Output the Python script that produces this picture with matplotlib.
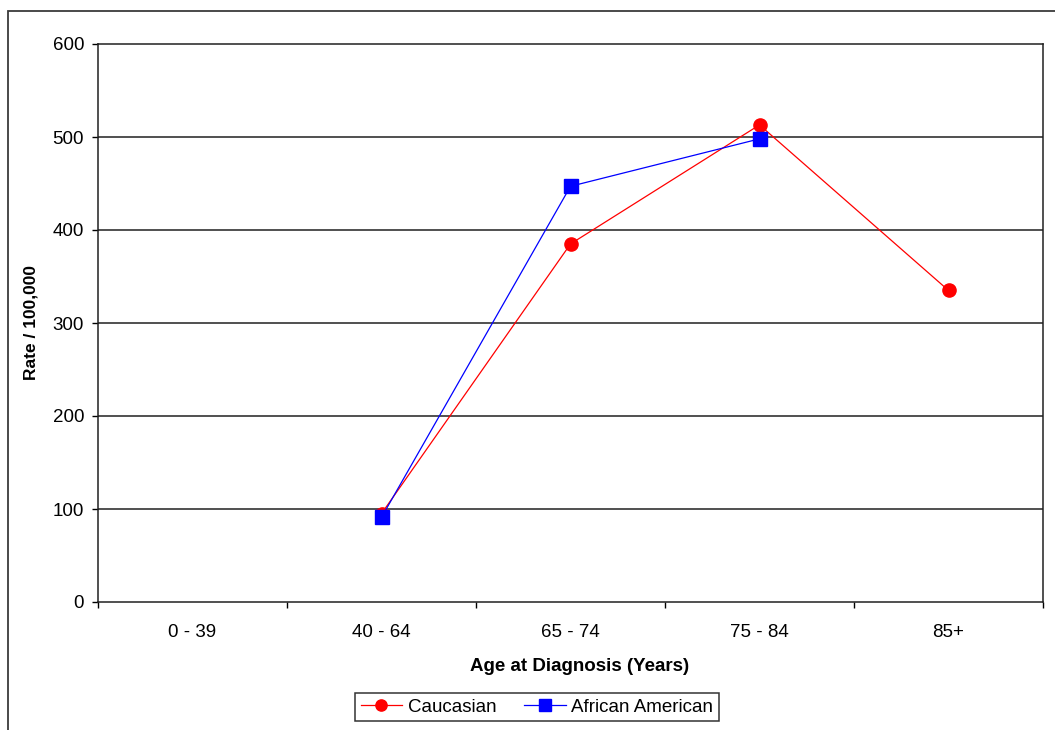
import numpy as np
import matplotlib
matplotlib.use('Agg')
from matplotlib import pyplot as plt
from matplotlib.patches import Rectangle

plt.rcParams['font.family'] = ['Liberation Sans', 'DejaVu Sans']

# age groups and rates per 100,000 (nan = no value)
age_groups = ['0 - 39', '40 - 64', '65 - 74', '75 - 84', '85+']
caucasian = [np.nan, 95, 385, 513, 335]
african_american = [np.nan, 91, 447, 498, np.nan]
y_ticks = [0, 100, 200, 300, 400, 500, 600]

fig = plt.figure(figsize=(10.55, 7.3), dpi=100)
ax = fig.add_axes([98/1055, 128/730, 945/1055, 558/730])

# outer chart frame (cropped at right and bottom)
fig.patches.append(Rectangle((8/1055, -0.1), 1.2, 0.1 + 719/730,
                             transform=fig.transFigure, fill=False,
                             edgecolor='#3a3a3a', linewidth=1.3))

x = np.arange(len(age_groups))
for yv in y_ticks[1:-1]:
    ax.axhline(yv, color='#202020', linewidth=1.1, zorder=1)

ax.plot(x, caucasian, color='#ff0000', linewidth=0.9, marker='o',
        markersize=9.5, label='Caucasian', zorder=3)
ax.plot(x, african_american, color='#0000ff', linewidth=0.9, marker='s',
        markersize=9.5, label='African American', zorder=3)

ax.set_xlim(-0.5, len(age_groups) - 0.5)
ax.set_ylim(0, 600)
ax.set_yticks(y_ticks)
ax.set_xticks(x)
ax.set_xticklabels(age_groups)
ax.set_xticks(np.arange(-0.5, len(age_groups)), minor=True)
ax.tick_params(axis='x', which='major', length=0, pad=16, labelsize=13.5)
ax.tick_params(axis='x', which='minor', length=4, width=1, direction='out')
ax.tick_params(axis='y', length=4, width=1, direction='out', pad=6,
               labelsize=13.5)
for s in ax.spines.values():
    s.set_linewidth(1.1)
    s.set_color('#202020')

ax.set_xlabel('Age at Diagnosis (Years)', fontsize=13.5, fontweight='bold',
              labelpad=14)
ax.xaxis.set_label_coords(0.51, -0.1)
ax.set_ylabel('Rate / 100,000', fontsize=12.5, fontweight='bold', labelpad=10)

leg = fig.legend(loc='center', bbox_to_anchor=(537/1055, 23/730), ncol=2,
                 fontsize=13.5, frameon=True, fancybox=False,
                 edgecolor='black', handlelength=2.2, columnspacing=1.5,
                 borderpad=0.3, handletextpad=0.3, markerscale=0.85)
leg.get_frame().set_linewidth(1.1)

fig.savefig('out.png', dpi=100)
